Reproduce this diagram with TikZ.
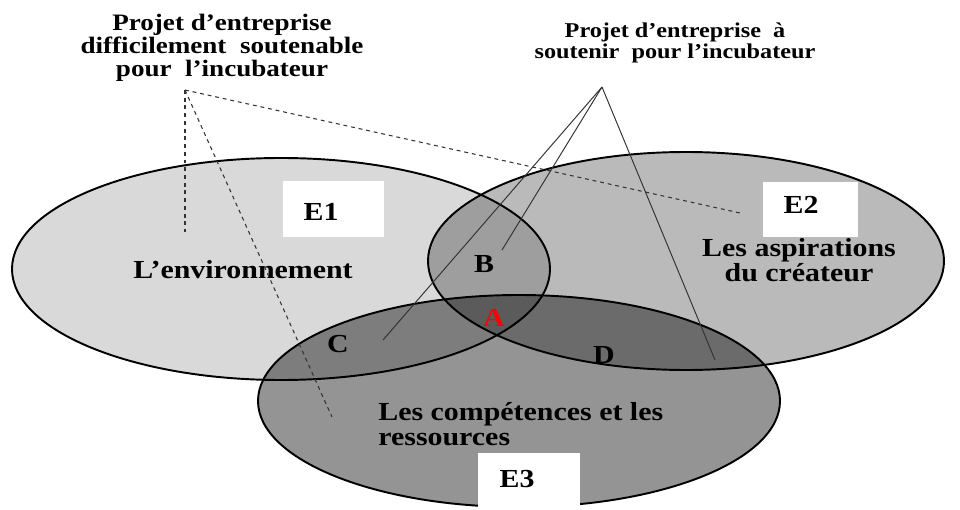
\documentclass[tikz,border=0pt]{standalone}
\usepackage{fontspec}
\setmainfont{Liberation Serif}
\newfontfamily\setfont[FakeStretch=1.15]{Liberation Serif}
\usetikzlibrary{positioning}
\definecolor{ringone}{gray}{0.85}
\definecolor{ringtwo}{gray}{0.73}
\definecolor{ringthree}{gray}{0.58}
\definecolor{linegray}{gray}{0.2}
\tikzset{
  ring/.style={draw=black, line width=1.1pt},
  tag/.style={font=\setfont\bfseries\fontsize{14.8}{14.6}\selectfont, inner sep=0pt},
  ray/.style={draw=linegray, line width=0.55pt},
  dashray/.style={draw=linegray, line width=0.6pt, dash pattern=on 2.2pt off 2.2pt}
}

\begin{document}
\begin{tikzpicture}[x=0.02cm, y=-0.02cm]
  \useasboundingbox (0,0) rectangle (960,510);
  % the three sets
  \begin{scope}[blend group=multiply]
    \fill[ringone] (281,269) ellipse [x radius=269, y radius=111];
    \fill[ringtwo] (686,261) ellipse [x radius=258, y radius=109];
    \fill[ringthree] (519,401) ellipse [x radius=261, y radius=106];
  \end{scope}
  \draw[ring] (281,269) ellipse [x radius=269, y radius=111];
  \draw[ring] (686,261) ellipse [x radius=258, y radius=109];
  \draw[ring] (519,401) ellipse [x radius=261, y radius=106];
  % white name boxes
  \fill[white] (283,181) rectangle (384,237); \node[tag] (e1) at (321,212) {E1};
  \fill[white] (763,182) rectangle (858,237); \node[tag] (e2) at (801,205) {E2};
  \fill[white] (478,453) rectangle (580,510); \node[tag] (e3) at (517,479) {E3};
  % texts
  \node[tag] (env) at (243,270) {L’environnement};
  \node[tag, align=center] (asp) at (799,260) {Les aspirations\\du créateur};
  \node[tag, align=left, anchor=west] (comp) at (378,424) {Les compétences et les\\ressources};
  \node[tag] (b) at (484,264) {B};
  \node[tag, text=red] (a) at (494,318) {A};
  \node[tag] (c) at (338,344) {C};
  \node[tag] (d) at (604,355) {D};
  \node[tag, align=center, font=\setfont\bfseries\fontsize{13.4}{13}\selectfont] (hard) at (222,48)
    {Projet d’entreprise\\difficilement\ \ soutenable\\pour\ \ l’incubateur};
  \node[tag, align=center, font=\setfont\bfseries\fontsize{12}{11.8}\selectfont] (good) at (675,43)
    {Projet d’entreprise\ \ à\\soutenir\ \ pour l’incubateur};
  % connectors
  \coordinate (top) at (602,87);
  \coordinate (low) at (185,90);
  \coordinate (pc) at (383,340);
  \coordinate (pb) at (502,250);
  \coordinate (pd) at (715,360);
  \coordinate (pv) at (185,232);
  \coordinate (pe) at (332,417);
  \coordinate (pf) at (740,213);
  \foreach \p in {pc,pb,pd} \draw[ray] (top) -- (\p);
  \foreach \p in {pv,pe,pf} \draw[dashray] (low) -- (\p);
\end{tikzpicture}
\end{document}
